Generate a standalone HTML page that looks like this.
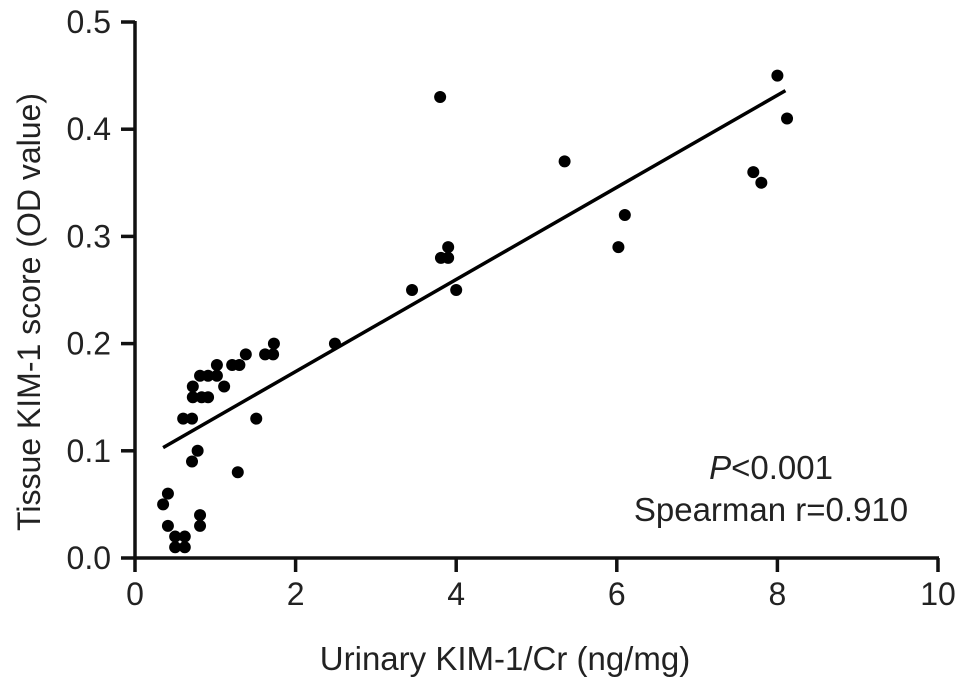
<!DOCTYPE html>
<html><head><meta charset="utf-8"><style>
body{margin:0;background:#fff;}
svg text{font-family:"Liberation Sans",sans-serif;fill:#222;}
</style></head><body>
<svg id="chart" width="969" height="689" viewBox="0 0 969 689"></svg>
<script>
const xVals=[0.41,0.35,0.41,0.50,0.62,0.50,0.62,0.81,0.81,0.71,0.78,1.28,1.51,0.60,0.71,0.72,0.83,0.91,0.72,0.81,0.91,1.02,1.02,1.11,1.21,1.30,1.38,1.62,1.72,1.73,2.49,3.45,3.81,3.90,3.90,3.80,4.00,5.35,6.02,6.10,7.70,7.80,8.00,8.12];
const yVals=[0.06,0.05,0.03,0.02,0.02,0.01,0.01,0.04,0.03,0.09,0.10,0.08,0.13,0.13,0.13,0.15,0.15,0.15,0.16,0.17,0.17,0.17,0.18,0.16,0.18,0.18,0.19,0.19,0.19,0.20,0.20,0.25,0.28,0.28,0.29,0.43,0.25,0.37,0.29,0.32,0.36,0.35,0.45,0.41];
const xTicks=[0,2,4,6,8,10];
const yTicks=[0.0,0.1,0.2,0.3,0.4,0.5];
const fitLine=[[0.35,0.103],[8.1,0.436]];
const NS="http://www.w3.org/2000/svg";
const svg=document.getElementById('chart');
const X=v=>135+v*80.3;
const Y=v=>558-v*1072;
function mk(tag,attrs,parent){const e=document.createElementNS(NS,tag);for(const k in attrs)e.setAttribute(k,attrs[k]);(parent||svg).appendChild(e);return e;}
let ax=mk('line',{x1:X(0)-1,y1:Y(0),x2:X(10)+1,y2:Y(0),stroke:'#111','stroke-width':3.5});


let ay=mk('line',{x1:X(0),y1:Y(0)+1,x2:X(0),y2:Y(0.5)-1,stroke:'#111','stroke-width':3.5});


xTicks.forEach(t=>{
 let l=mk('line',{x1:X(t),y1:Y(0),x2:X(t),y2:Y(0)+14,stroke:'#111','stroke-width':3.5});
 
 
 let tx=mk('text',{x:X(t),y:Y(0)+47,'text-anchor':'middle','font-size':32});
 tx.textContent=t;
 
 
});
yTicks.forEach(t=>{
 let l=mk('line',{x1:X(0)-14,y1:Y(t),x2:X(0),y2:Y(t),stroke:'#111','stroke-width':3.5});
 
 
 let tx=mk('text',{x:X(0)-24,y:Y(t)+11,'text-anchor':'end','font-size':32});
 tx.textContent=t.toFixed(1);
 
 
});
xVals.forEach((v,i)=>{
 let c=mk('circle',{cx:X(v),cy:Y(yVals[i]),r:6,fill:'#000'});
 
 
});
let fl=mk('line',{x1:X(fitLine[0][0]),y1:Y(fitLine[0][1]),x2:X(fitLine[1][0]),y2:Y(fitLine[1][1]),stroke:'#000','stroke-width':3.5});


let xt=mk('text',{x:505,y:670,'text-anchor':'middle','font-size':33});
xt.textContent='Urinary KIM-1/Cr (ng/mg)';


let yt=mk('text',{x:0,y:0,'text-anchor':'middle','font-size':32,transform:'translate(40,312) rotate(-90)'});
yt.textContent='Tissue KIM-1 score (OD value)';


let p=mk('text',{x:771,y:479,'text-anchor':'middle','font-size':33});
p.innerHTML='<tspan font-style="italic">P</tspan>&lt;0.001';


let s=mk('text',{x:771,y:521,'text-anchor':'middle','font-size':33});
s.textContent='Spearman r=0.910';


</script>
</body></html>
